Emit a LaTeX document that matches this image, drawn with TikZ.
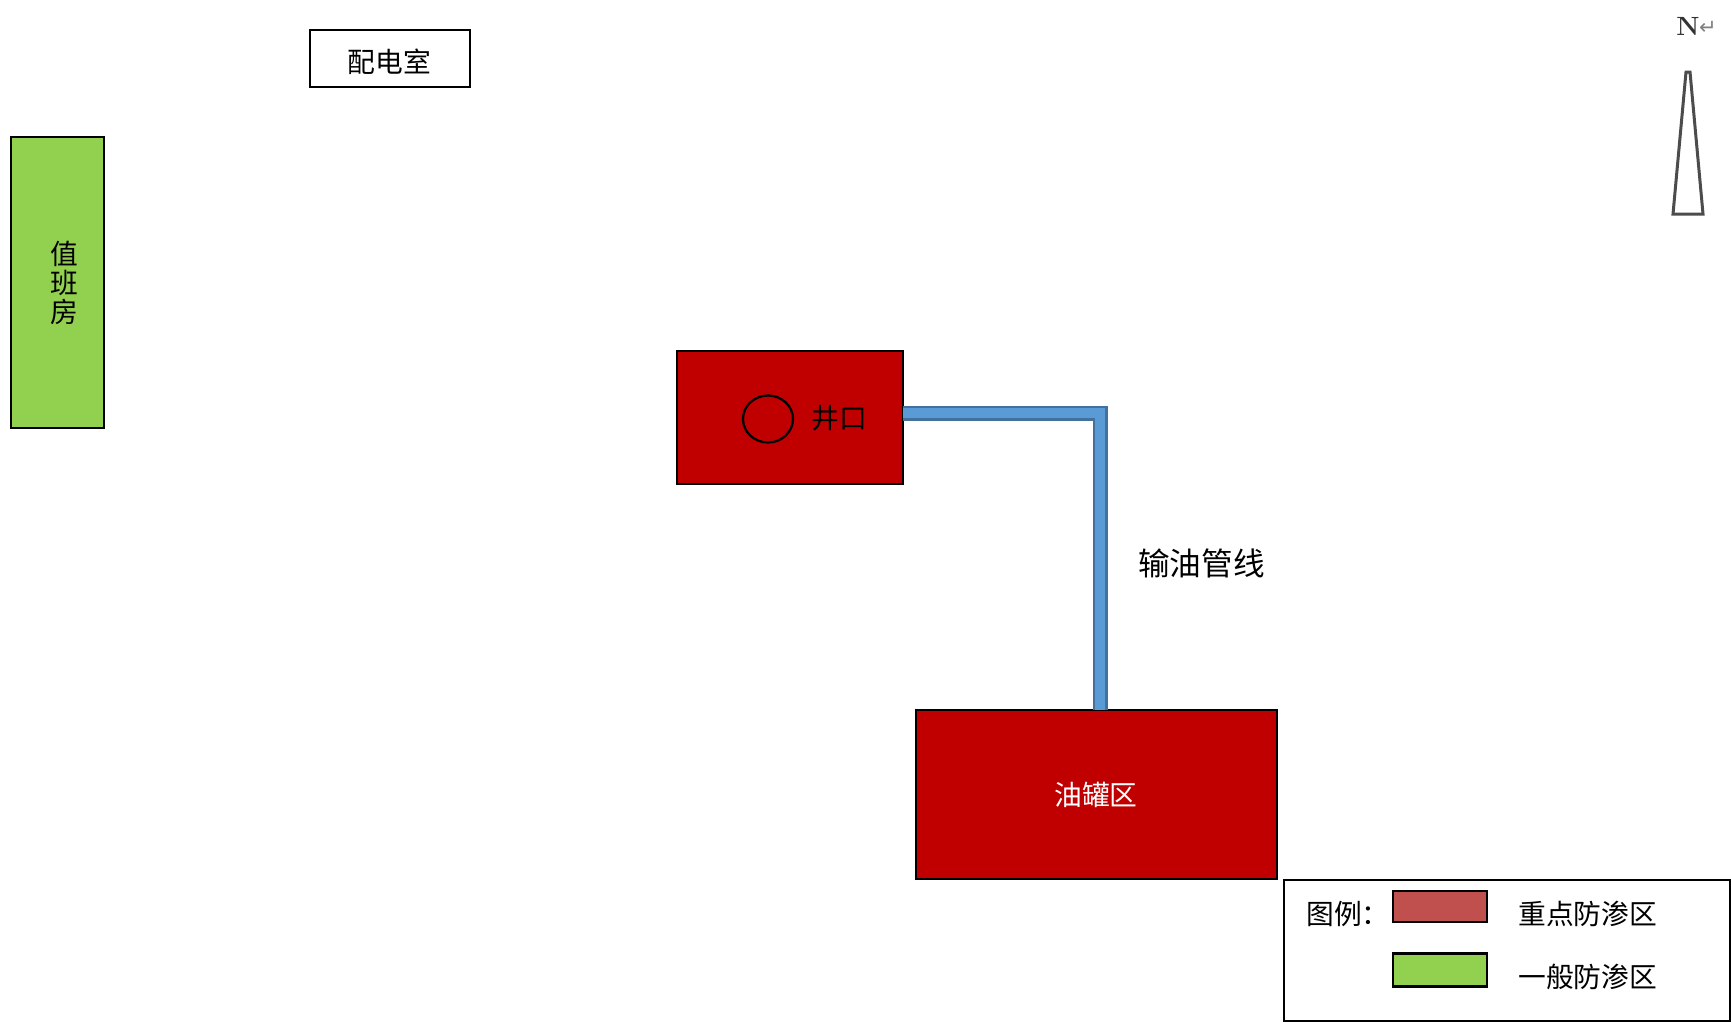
\documentclass[tikz,border=0pt]{standalone}
\usepackage{fontspec}
\usetikzlibrary{shapes.geometric}
\newfontfamily\cjk{Noto Sans CJK SC}
\newfontfamily\arrowfont{DejaVu Sans}
\definecolor{keyred}{HTML}{C00000}
\definecolor{softred}{HTML}{C0504D}
\definecolor{zonegreen}{HTML}{92D050}
\definecolor{pipeblue}{HTML}{5B9BD5}
\definecolor{pipeedge}{HTML}{41719C}
\tikzset{
  box/.style={draw=black, line width=.05cm, inner sep=0, outer sep=0},
  txt/.style={font=\cjk\fontsize{15.8}{16.6}\selectfont, inner sep=0},
  pipe/.style={draw=pipeedge, line width=.05cm, double=pipeblue, double distance=.2cm}
}
\begin{document}
\begin{tikzpicture}[x=.02cm, y=-.02cm]
\useasboundingbox (0,0) rectangle (1731,1022);

\node (power) at (390,58.5)[box, minimum width=3.2cm, minimum height=1.14cm]{};
\node (powertxt) at (389.5,62)[txt]{配电室};

\node (duty) at (57.5,282.5)[box, fill=zonegreen, minimum width=1.86cm, minimum height=5.82cm]{};
\node (dutytxt) at (64,283)[txt, align=center]{值\\班\\房};

\node (well) at (790,417.5)[box, fill=keyred, minimum width=4.52cm, minimum height=2.66cm]{};
\node (wellhead) at (768,419)[draw=black, line width=.045cm, ellipse, inner sep=0, minimum width=1cm, minimum height=.94cm]{};
\node (welltxt) at (839,418)[txt]{井口};

\node (tank) at (1096.5,794.5)[box, fill=keyred, minimum width=7.22cm, minimum height=3.38cm]{};
\node (tanktxt) at (1096,795)[txt, text=white]{油罐区};

% pipeline
\coordinate (bend) at (1100,413);
\draw[pipe] (well.east |- bend)--(bend)--(tank.north -| bend);
\node (pipetxt) at (1201.5,563)[txt, font=\cjk\fontsize{18}{20}\selectfont]{输油管线};

% legend
\node (legend) at (1507,950.5)[box, minimum width=8.92cm, minimum height=2.82cm]{};
\node (legendtxt) at (1306,914)[txt, anchor=west]{图例：};
\node (keyswatch) at (1440,906.5)[box, fill=softred, minimum width=1.88cm, minimum height=.62cm]{};
\node (normalswatch) at (1440,970)[box, fill=zonegreen, minimum width=1.88cm, minimum height=.66cm]{};
\node (keytxt) at (1518,914)[txt, anchor=west]{重点防渗区};
\node (normaltxt) at (1518,977)[txt, anchor=west]{一般防渗区};

% north arrow
\node (north) at (1688,26)[inner sep=0, font=\bfseries\fontsize{15}{16}\selectfont, text=black!80]{N};
\node (enter) at (1708,28)[inner sep=0, font=\arrowfont\fontsize{12}{13}\selectfont, text=black!50]{↵};
\draw[line width=.06cm, black!70] (1686,72)--(1690,72)--(1703,214)--(1673,214)--cycle;
\end{tikzpicture}
\end{document}
